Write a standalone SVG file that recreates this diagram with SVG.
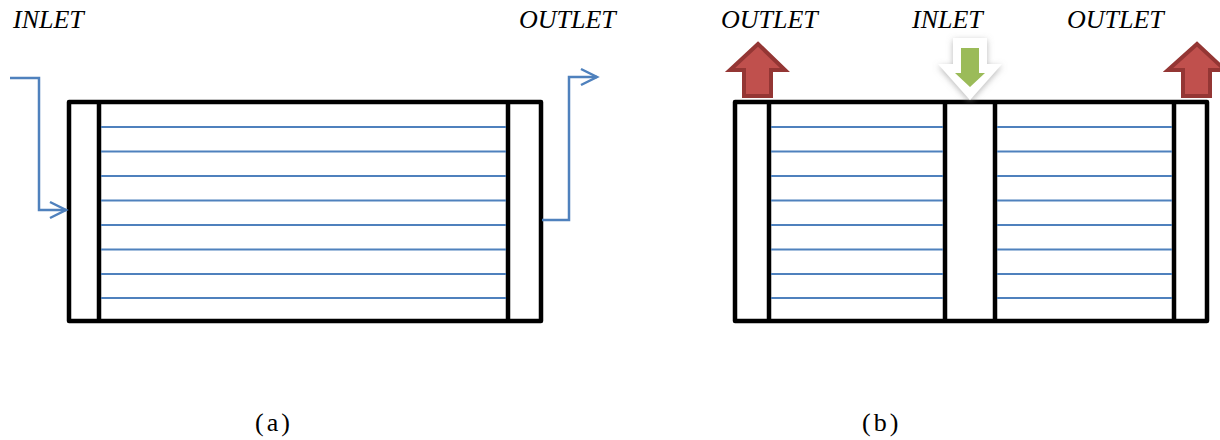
<svg xmlns="http://www.w3.org/2000/svg" width="1220" height="440" viewBox="0 0 1220 440">
<style>
.frame{fill:none;stroke:#000;stroke-width:4.5;stroke-linejoin:round}
.div{stroke:#000;stroke-width:4.5}
.tube{stroke:#4f81bd;stroke-width:2}
.flow{fill:none;stroke:#4f81bd;stroke-width:2.5}
.red{fill:#c0504d;stroke:#943634;stroke-width:4;stroke-linejoin:miter}
</style>
<defs>
<filter id="glow" x="-50%" y="-50%" width="200%" height="200%">
<feGaussianBlur in="SourceAlpha" stdDeviation="3"/>
<feOffset dx="0" dy="2" result="b"/>
<feFlood flood-color="#888" flood-opacity="0.6"/>
<feComposite in2="b" operator="in"/>
<feMerge><feMergeNode/><feMergeNode in="SourceGraphic"/></feMerge>
</filter>
</defs>
<g id="panel-a">
<rect class="frame" x="69" y="102" width="472" height="219"/>
<line class="div" x1="99" y1="102" x2="99" y2="321"/>
<line class="div" x1="508" y1="102" x2="508" y2="321"/>
<g class="tube">
<line x1="101" y1="127" x2="506" y2="127"/>
<line x1="101" y1="151.5" x2="506" y2="151.5"/>
<line x1="101" y1="176" x2="506" y2="176"/>
<line x1="101" y1="200.5" x2="506" y2="200.5"/>
<line x1="101" y1="225" x2="506" y2="225"/>
<line x1="101" y1="249.5" x2="506" y2="249.5"/>
<line x1="101" y1="274" x2="506" y2="274"/>
<line x1="101" y1="298" x2="506" y2="298"/>
</g>
</g>
<g id="panel-b">
<rect class="frame" x="735" y="102" width="472" height="219"/>
<line class="div" x1="769" y1="102" x2="769" y2="321"/>
<line class="div" x1="945" y1="102" x2="945" y2="321"/>
<line class="div" x1="995" y1="102" x2="995" y2="321"/>
<line class="div" x1="1174" y1="102" x2="1174" y2="321"/>
<g class="tube">
<line x1="771" y1="127" x2="943" y2="127"/>
<line x1="771" y1="151.5" x2="943" y2="151.5"/>
<line x1="771" y1="176" x2="943" y2="176"/>
<line x1="771" y1="200.5" x2="943" y2="200.5"/>
<line x1="771" y1="225" x2="943" y2="225"/>
<line x1="771" y1="249.5" x2="943" y2="249.5"/>
<line x1="771" y1="274" x2="943" y2="274"/>
<line x1="771" y1="298" x2="943" y2="298"/>
<line x1="997" y1="127" x2="1172" y2="127"/>
<line x1="997" y1="151.5" x2="1172" y2="151.5"/>
<line x1="997" y1="176" x2="1172" y2="176"/>
<line x1="997" y1="200.5" x2="1172" y2="200.5"/>
<line x1="997" y1="225" x2="1172" y2="225"/>
<line x1="997" y1="249.5" x2="1172" y2="249.5"/>
<line x1="997" y1="274" x2="1172" y2="274"/>
<line x1="997" y1="298" x2="1172" y2="298"/>
</g>
</g>
<g id="connectors">
<polyline class="flow" points="10,78 39,78 39,210 66,210"/>
<polyline class="flow" points="50,202 66,210 50,218"/>
<polyline class="flow" points="542,220 569,220 569,77 597,77"/>
<polyline class="flow" points="581,69 597,77 581,85"/>
</g>
<g id="outlet-arrow-left">
<polygon class="red" points="758,44 785,70 771,70 771,96 744,96 744,70 730,70"/>
</g>
<g id="inlet-arrow">
<polygon points="953,38 987,38 987,64 1002,64 970,100 938,64 953,64" fill="#fff" filter="url(#glow)"/>
<polygon points="961,48 979,48 979,73 985,73 970,87 955,73 961,73" fill="#9bbb59"/>
</g>
<g id="outlet-arrow-right">
<polygon class="red" points="1197,44 1225,70 1210,70 1210,96 1183,96 1183,70 1168,70"/>
</g>
<g id="labels" font-family="Liberation Serif" font-size="26" fill="#000">
<g font-style="italic">
<text x="13" y="28">INLET</text>
<text x="519" y="28">OUTLET</text>
<text x="721" y="28">OUTLET</text>
<text x="912" y="28">INLET</text>
<text x="1067" y="28">OUTLET</text>
</g>
<text x="255" y="431" letter-spacing="3">(a)</text>
<text x="862" y="431" letter-spacing="3">(b)</text>
</g>
</svg>
